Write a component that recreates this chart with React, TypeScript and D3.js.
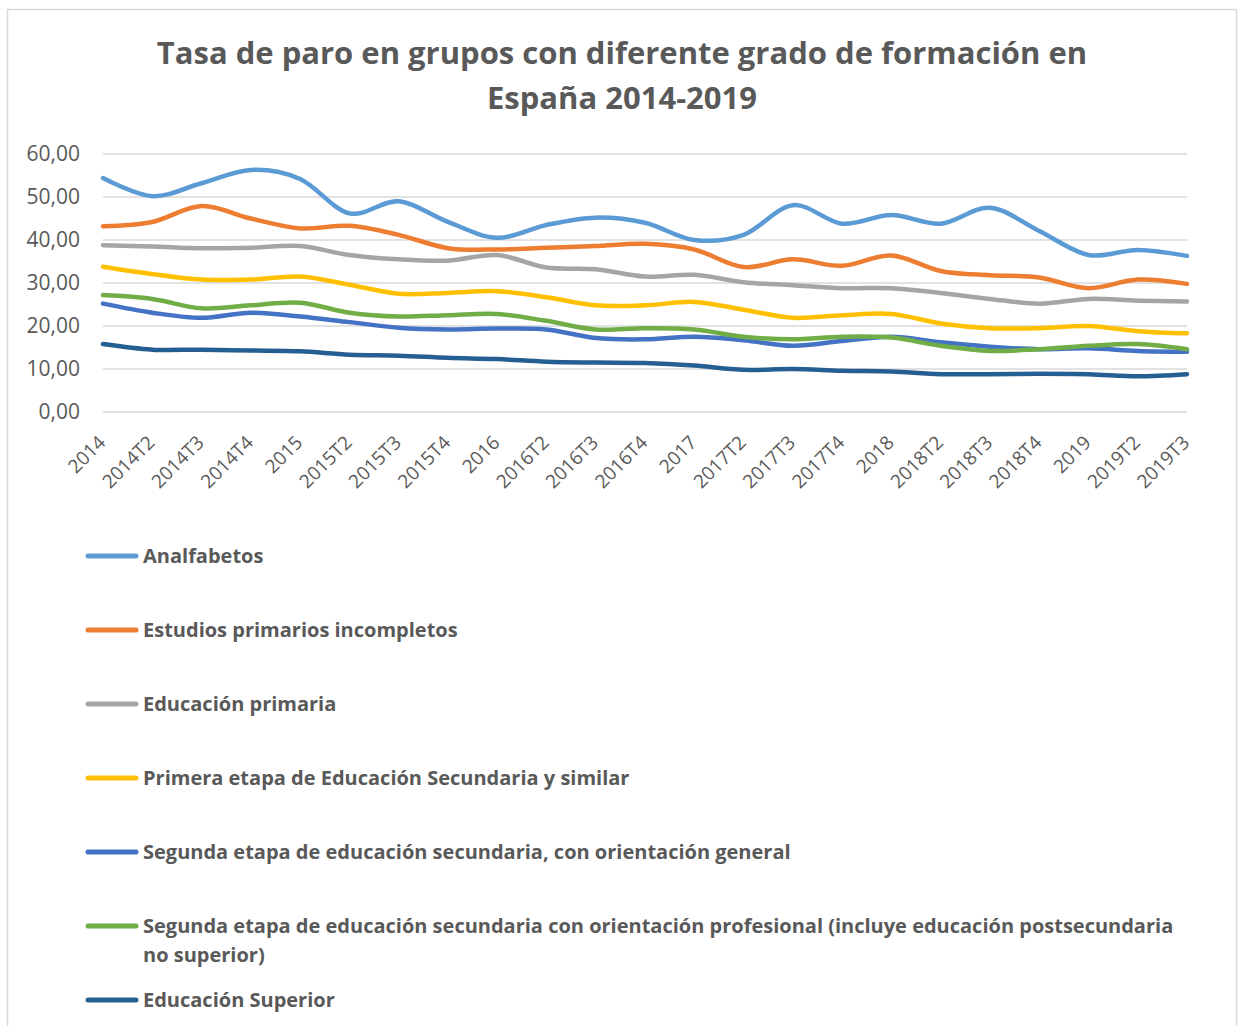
import React from "react";
import * as d3 from "d3";

const categories = [
  "2014", "2014T2", "2014T3", "2014T4", "2015", "2015T2", "2015T3", "2015T4",
  "2016", "2016T2", "2016T3", "2016T4", "2017", "2017T2", "2017T3", "2017T4",
  "2018", "2018T2", "2018T3", "2018T4", "2019", "2019T2", "2019T3",
];

const analfabetos = [54.4, 50.2, 53.2, 56.3, 54.2, 46.2, 49.0, 44.2, 40.5, 43.5, 45.2, 44.0, 40.0, 41.2, 48.1, 43.8, 45.8, 43.8, 47.5, 42.1, 36.5, 37.7, 36.3];
const primariosIncompletos = [43.2, 44.2, 47.9, 45.0, 42.7, 43.3, 41.2, 38.1, 37.8, 38.2, 38.6, 39.1, 37.8, 33.7, 35.5, 34.0, 36.4, 32.8, 31.8, 31.3, 28.8, 30.8, 29.8];
const educacionPrimaria = [38.8, 38.5, 38.1, 38.2, 38.6, 36.5, 35.5, 35.2, 36.5, 33.6, 33.2, 31.5, 31.9, 30.2, 29.5, 28.8, 28.8, 27.7, 26.3, 25.2, 26.3, 25.9, 25.7];
const primeraEtapa = [33.8, 32.1, 30.8, 30.8, 31.5, 29.6, 27.5, 27.7, 28.1, 26.7, 24.8, 24.8, 25.6, 23.8, 21.9, 22.5, 22.8, 20.6, 19.5, 19.5, 20.0, 18.8, 18.3];
const segundaGeneral = [25.2, 23.1, 21.9, 23.1, 22.2, 20.9, 19.6, 19.2, 19.4, 19.2, 17.2, 16.9, 17.5, 16.7, 15.4, 16.5, 17.5, 16.2, 15.2, 14.6, 14.8, 14.2, 14.0];
const segundaProfesional = [27.2, 26.3, 24.1, 24.8, 25.4, 23.1, 22.2, 22.5, 22.8, 21.2, 19.2, 19.5, 19.2, 17.5, 16.9, 17.5, 17.3, 15.4, 14.2, 14.6, 15.4, 15.8, 14.6];
const educacionSuperior = [15.8, 14.5, 14.5, 14.3, 14.1, 13.3, 13.1, 12.6, 12.3, 11.7, 11.5, 11.4, 10.8, 9.8, 10.0, 9.6, 9.4, 8.8, 8.8, 8.9, 8.8, 8.3, 8.8];

const yTicks = [0, 10, 20, 30, 40, 50, 60];

const seriesNames = [
  "Analfabetos",
  "Estudios primarios incompletos",
  "Educación primaria",
  "Primera etapa de Educación Secundaria y similar",
  "Segunda etapa de educación secundaria, con orientación general",
  "Segunda etapa de educación secundaria con orientación profesional (incluye educación postsecundaria\nno superior)",
  "Educación Superior",
];
const seriesColors = ["#5B9BD5", "#ED7D31", "#A5A5A5", "#FFC000", "#4472C4", "#70AD47", "#255E91"];
const seriesValues = [analfabetos, primariosIncompletos, educacionPrimaria, primeraEtapa, segundaGeneral, segundaProfesional, educacionSuperior];

const W = 1238;
const H = 1026;
const plot = { left: 103, right: 1187, top: 154, bottom: 412 };
const FONT = "'Open Sans', sans-serif";
const TXT = "#595959";

export default function App() {
  const x = d3.scalePoint<string>().domain(categories).range([plot.left, plot.right]);
  const y = d3.scaleLinear().domain([0, 60]).range([plot.bottom, plot.top]);
  const line = d3
    .line<number>()
    .x((_, i) => x(categories[i]) as number)
    .y((d) => y(d))
    .curve(d3.curveCatmullRom.alpha(0));

  const legendTop = 556;
  const legendStep = 74;

  return (
    <svg
      width={W}
      height={H}
      style={{ position: "absolute", left: 0, top: 0, background: "#fff" }}
      fontFamily={FONT}
    >
      <rect x={7.5} y={9.5} width={1229} height={1040} fill="#fff" stroke="#d9d9d9" strokeWidth={1.5} />
      <text x={622} y={64} textAnchor="middle" fontSize={31} fontWeight="bold" fill={TXT}>
        Tasa de paro en grupos con diferente grado de formación en
      </text>
      <text x={622} y={109} textAnchor="middle" fontSize={31} fontWeight="bold" fill={TXT}>
        España 2014-2019
      </text>

      {yTicks.map((t) => (
        <g key={t}>
          <line x1={plot.left} x2={plot.right} y1={y(t)} y2={y(t)} stroke="#d9d9d9" strokeWidth={1.5} />
          <text x={80} y={y(t)} dy="0.35em" textAnchor="end" fontSize={21} fill={TXT}>
            {d3.format(".2f")(t).replace(".", ",")}
          </text>
        </g>
      ))}

      {categories.map((c) => (
        <text
          key={c}
          transform={`translate(${(x(c) as number) - 1},${439}) rotate(-45)`}
          textAnchor="end"
          dy="0.35em"
          fontSize={19}
          fill={TXT}
        >
          {c}
        </text>
      ))}

      {seriesValues.map((vals, si) => (
        <path
          key={si}
          d={line(vals) || ""}
          fill="none"
          stroke={seriesColors[si]}
          strokeWidth={4.5}
          strokeLinecap="round"
          strokeLinejoin="round"
        />
      ))}

      {seriesNames.map((name, si) => {
        const cy = legendTop + si * legendStep;
        const lines = name.split("\n");
        return (
          <g key={si}>
            <line x1={88} x2={136} y1={cy} y2={cy} stroke={seriesColors[si]} strokeWidth={5} strokeLinecap="round" />
            {lines.map((ln, li) => (
              <text key={li} x={143} y={cy + li * 29} dy="0.35em" fontSize={20} fontWeight="bold" fill={TXT}>
                {ln}
              </text>
            ))}
          </g>
        );
      })}
    </svg>
  );
}
